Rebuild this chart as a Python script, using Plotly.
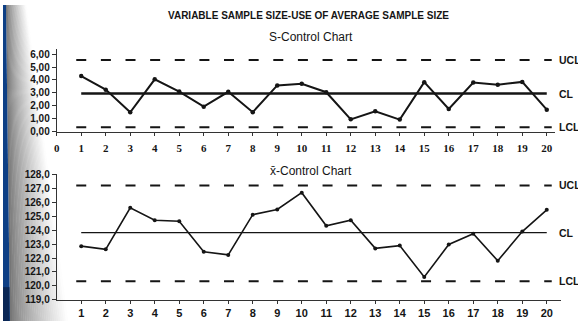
import plotly.graph_objects as go

# ---------------- data ----------------
samples = list(range(1, 21))
s_values = [4.30, 3.25, 1.50, 4.05, 3.10, 1.93, 3.08, 1.50, 3.58, 3.70,
            3.05, 0.95, 1.58, 0.93, 3.83, 1.75, 3.80, 3.63, 3.85, 1.70]
s_cl, s_ucl, s_lcl = 2.95, 5.55, 0.33

xbar_values = [122.86, 122.63, 125.62, 124.73, 124.66, 122.46, 122.23, 125.13, 125.50, 126.71,
               124.33, 124.73, 122.70, 122.90, 120.64, 122.98, 123.75, 121.81, 123.91, 125.48]
x_cl, x_ucl, x_lcl = 123.84, 127.23, 120.34

s_yticks = [0, 1, 2, 3, 4, 5, 6]
s_yticklabels = ["0,00", "1,00", "2,00", "3,00", "4,00", "5,00", "6,00"]
x_yticks = [119, 120, 121, 122, 123, 124, 125, 126, 127, 128]
x_yticklabels = ["119,0", "120,0", "121,0", "122,0", "123,0", "124,0", "125,0", "126,0", "127,0", "128,0"]
s_xticks = list(range(0, 21))
x_xticks = list(range(1, 21))

title_main = "VARIABLE SAMPLE SIZE-USE OF AVERAGE SAMPLE SIZE"
title_s = "S-Control Chart"
title_x = "x\u0304-Control Chart"

# ---------------- layout helpers ----------------
W, H = 578, 327
def px(x):
    return x / W
def py(y):
    return 1 - y / H

SANS = "Liberation Sans, Arial, sans-serif"
SERIF = "Liberation Serif, Times New Roman, serif"
INK = "#151515"

fig = go.Figure()

half = 5 / 24.63
dash_pat = "10px,14.63px"

# S chart
fig.add_trace(go.Scatter(x=[samples[0] - half, samples[-1] + half], y=[s_ucl, s_ucl], mode="lines",
                         line=dict(color=INK, width=2, dash=dash_pat), xaxis="x", yaxis="y", hoverinfo="skip"))
fig.add_trace(go.Scatter(x=[samples[0] - half, samples[-1] + half], y=[s_lcl, s_lcl], mode="lines",
                         line=dict(color=INK, width=2, dash=dash_pat), xaxis="x", yaxis="y", hoverinfo="skip"))
fig.add_trace(go.Scatter(x=[samples[0], samples[-1]], y=[s_cl, s_cl], mode="lines",
                         line=dict(color=INK, width=2.6), xaxis="x", yaxis="y", hoverinfo="skip"))
fig.add_trace(go.Scatter(x=samples, y=s_values, mode="lines+markers",
                         line=dict(color=INK, width=2), marker=dict(size=4.5, color=INK),
                         xaxis="x", yaxis="y"))

# X-bar chart
fig.add_trace(go.Scatter(x=[samples[0] - half, samples[-1] + half], y=[x_ucl, x_ucl], mode="lines",
                         line=dict(color=INK, width=2, dash=dash_pat), xaxis="x2", yaxis="y2", hoverinfo="skip"))
fig.add_trace(go.Scatter(x=[samples[0] - half, samples[-1] + half], y=[x_lcl, x_lcl], mode="lines",
                         line=dict(color=INK, width=2, dash=dash_pat), xaxis="x2", yaxis="y2", hoverinfo="skip"))
fig.add_trace(go.Scatter(x=[samples[0], samples[-1]], y=[x_cl, x_cl], mode="lines",
                         line=dict(color=INK, width=1.3), xaxis="x2", yaxis="y2", hoverinfo="skip"))
fig.add_trace(go.Scatter(x=samples, y=xbar_values, mode="lines+markers",
                         line=dict(color=INK, width=1.6), marker=dict(size=4, color=INK),
                         xaxis="x2", yaxis="y2"))

scale = 24.63
x0 = 54
top_range = 20.35
bot_range = 20.6

axis_common = dict(showgrid=False, zeroline=False, showline=True, linecolor="#333", linewidth=1,
                   ticks="outside", ticklen=3, tickcolor="#333", tickwidth=1)

fig.update_layout(
    width=W, height=H,
    margin=dict(l=0, r=0, t=0, b=0),
    paper_bgcolor="white", plot_bgcolor="rgba(0,0,0,0)",
    showlegend=False,
    xaxis=dict(domain=[px(x0), px(x0 + top_range * scale)], range=[0, top_range], anchor="y",
               tickvals=s_xticks, ticktext=[str(v) for v in s_xticks],
               tickfont=dict(family=SERIF, size=11, color=INK, weight="bold"),
               ticklabelstandoff=3, **axis_common),
    yaxis=dict(domain=[py(131), py(45.5)], range=[0, 6.4], anchor="x",
               tickvals=s_yticks, ticktext=s_yticklabels,
               tickfont=dict(family=SANS, size=10, color=INK, weight="bold"),
               **{**axis_common, "ticklen": 4}),
    xaxis2=dict(domain=[px(x0), px(x0 + bot_range * scale)], range=[0, bot_range], anchor="y2",
                tickvals=x_xticks, ticktext=[str(v) for v in x_xticks],
                tickfont=dict(family=SANS, size=11, color=INK, weight="bold"),
                **axis_common),
    yaxis2=dict(domain=[py(305), py(175)], range=[119, 128.05], anchor="x2",
                tickvals=x_yticks, ticktext=x_yticklabels,
                tickfont=dict(family=SANS, size=10, color=INK, weight="bold"),
                **{**axis_common, "ticklen": 4}),
)

# ---------------- background (slide edge with shadow) ----------------
shapes = []
N = 30
def xstart(y):
    return 3 + 4 * y / H
def wid(y):
    return 20 + 38 * y / H
for i in range(N):
    t0, t1 = i / N, (i + 1) / N
    tm = (t0 + t1) / 2
    g = int(112 + (255 - 112) * (tm ** 0.75))
    col = f"rgb({g},{g},{g})"
    pts = [(xstart(0) + t0 * wid(0), 0), (xstart(0) + t1 * wid(0) + 0.5, 0),
           (xstart(H) + t1 * wid(H) + 0.5, H), (xstart(H) + t0 * wid(H), H)]
    path = "M " + " L ".join(f"{px(a):.5f},{py(b):.5f}" for a, b in pts) + " Z"
    shapes.append(dict(type="path", path=path, xref="paper", yref="paper",
                       fillcolor=col, line=dict(width=0), layer="below"))
blue_pts = [(0, 0), (xstart(0), 0), (xstart(H), H), (0, H)]
shapes.append(dict(type="path", path="M " + " L ".join(f"{px(a):.5f},{py(b):.5f}" for a, b in blue_pts) + " Z",
                   xref="paper", yref="paper", fillcolor="#0d3f85", line=dict(width=0), layer="below"))
shapes.append(dict(type="rect", xref="paper", yref="paper", x0=0, x1=px(6.5), y0=0, y1=py(292),
                   fillcolor="#0a2755", line=dict(width=0), layer="below"))
fig.update_layout(shapes=shapes)

# ---------------- text ----------------
ann = []
ann.append(dict(text=f"<b>{title_main}</b>", x=px(307), y=py(11), xref="paper", yref="paper",
                showarrow=False, font=dict(family=SANS, size=10, color=INK), xanchor="center", yanchor="middle"))
ann.append(dict(text=title_s, x=px(310), y=py(33), xref="paper", yref="paper",
                showarrow=False, font=dict(family=SANS, size=12, color=INK), xanchor="center", yanchor="middle"))
ann.append(dict(text=title_x, x=px(310), y=py(172), xref="paper", yref="paper",
                showarrow=False, font=dict(family=SANS, size=12, color=INK), xanchor="center", yanchor="middle"))
for lab, val in (("UCLs", s_ucl), ("CL", s_cl), ("LCLs", s_lcl)):
    ann.append(dict(text=f"<b>{lab}</b>", x=px(556.5), y=val, xref="paper", yref="y", showarrow=False,
                    xanchor="left", yanchor="middle", font=dict(family=SANS, size=10.5, color=INK)))
for lab, val in (("UCLs", x_ucl), ("CL", x_cl), ("LCLs", x_lcl)):
    ann.append(dict(text=f"<b>{lab}</b>", x=px(556.5), y=val, xref="paper", yref="y2", showarrow=False,
                    xanchor="left", yanchor="middle", font=dict(family=SANS, size=10.5, color=INK)))
fig.update_layout(annotations=ann)

fig.write_html("out.html", config={"displayModeBar": False},
               post_script="document.body.style.margin='0';document.body.style.overflow='hidden';")
